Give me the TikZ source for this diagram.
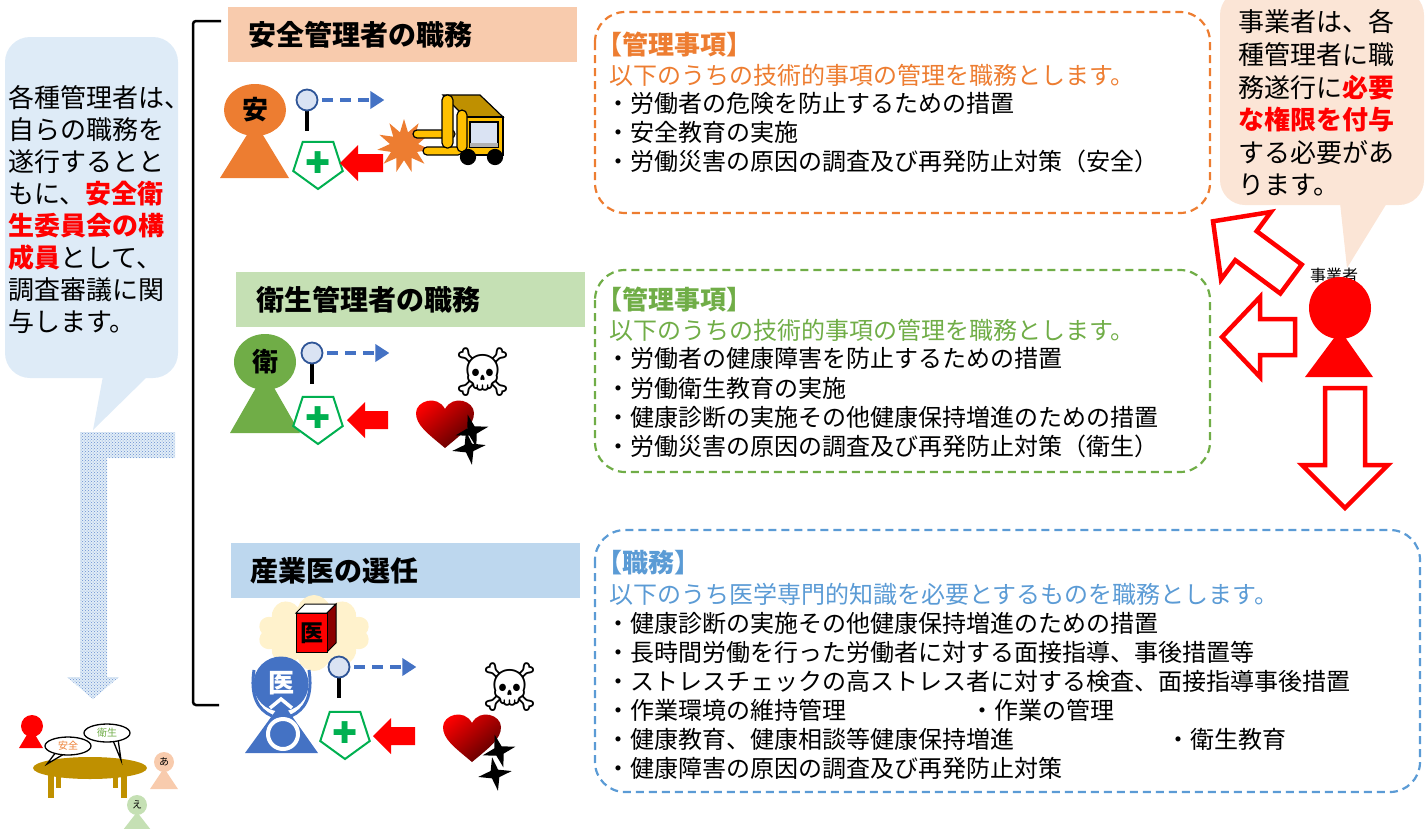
\documentclass[tikz,border=0pt]{standalone}
\usepackage{fontspec}
\setmainfont{Noto Sans CJK JP}
\newfontfamily\symfont{DejaVu Sans}
\newfontfamily\emojifont{Noto Emoji}
\usetikzlibrary{shapes.geometric,shapes.symbols,patterns,arrows.meta}

\definecolor{anzen}{HTML}{ED7D31}
\definecolor{anzenbg}{HTML}{F8CBAD}
\definecolor{eisei}{HTML}{70AD47}
\definecolor{eiseibg}{HTML}{C5E0B4}
\definecolor{isha}{HTML}{5B9BD5}
\definecolor{ishabg}{HTML}{BDD7EE}
\definecolor{figblue}{HTML}{4472C4}
\definecolor{noteL}{HTML}{DEEBF7}
\definecolor{noteR}{HTML}{FBE5D6}
\definecolor{crossgreen}{HTML}{00B050}
\definecolor{lift}{HTML}{FFC000}
\definecolor{liftdark}{HTML}{BF9000}
\definecolor{lensfill}{HTML}{DAE3F3}
\definecolor{lensedge}{HTML}{2F5597}
\definecolor{cloudbg}{HTML}{FFF2CC}

\begin{document}
\begin{tikzpicture}[
    x=1pt, y=-1pt,
    title/.style={anchor=north west, minimum width=349, minimum height=55, text width=309, inner xsep=20, align=left, font=\fontsize{28}{30}\selectfont\bfseries},
    item/.style={anchor=west, inner sep=0, font=\fontsize{24}{28}\selectfont},
    itemhead/.style={anchor=west, inner sep=0, font=\fontsize{26}{28}\selectfont\bfseries},
    memo/.style={anchor=west, inner sep=0, font=\fontsize{26}{32}\selectfont},
    duty/.style={dash pattern=on 8pt off 5pt, line width=2.2, rounded corners=30},
    badge/.style={inner sep=0, font=\fontsize{26}{26}\selectfont\bfseries},
    lens/.style={circle, draw=lensedge, fill=lensfill, line width=1.8, minimum size=21, inner sep=0},
    scan/.style={figblue, line width=4, dash pattern=on 11pt off 7pt, -{Triangle[length=14pt,width=17pt]}},
    guard/.style={regular polygon, regular polygon sides=5, shape border rotate=180, draw=crossgreen, line width=2, fill=white, minimum size=52, inner sep=0, text=crossgreen, font=\symfont\fontsize{30}{30}\selectfont},
    skull/.style={inner sep=0, font=\emojifont\fontsize{48}{48}\selectfont},
    crack/.style={star, star points=4, star point ratio=3.2, fill=black, minimum size=34, inner sep=0},
    hollow/.style={draw=red, line width=4.5, fill=white, line join=miter},
    pics/fat/.style args={#1/#2/#3/#4}{code={
        \path[pic actions] (0,-#1) -- (#2,-#1) -- (#2,-#3) -- (#2+#4,0) -- (#2,#3) -- (#2,#1) -- (0,#1) -- cycle;}},
    pics/heart/.style={code={
        \shade[top color=red, bottom color={rgb,255:red,90;green,0;blue,0}, shading angle=40]
          (0,25) .. controls (-18,10) and (-29,2) .. (-29,-10)
          .. controls (-29,-22) and (-8,-29) .. (0,-14)
          .. controls (8,-29) and (29,-22) .. (29,-10)
          .. controls (29,2) and (18,10) .. (0,25) -- cycle;}}
]
\useasboundingbox (0,0) rectangle (1426,828);

% Left note
\fill[noteL, rounded corners=25] (5,37) rectangle (178,378);
\fill[noteL] (103,376) -- (93,430) -- (148,376) -- cycle;
\foreach \i/\txt in {0/各種管理者は、, 1/自らの職務を, 2/遂行するとと,
    3/{もに、\textcolor{red}{\bfseries 安全衛}}, 4/{\textcolor{red}{\bfseries 生委員会の構}},
    5/{\textcolor{red}{\bfseries 成員}として、}, 6/調査審議に関, 7/与します。}
  \node[memo] (leftnote\i) at (8,98+32*\i) {\txt};

% Dotted arrow down to the committee
\path[preaction={fill=ishabg!45}, pattern=crosshatch dots, pattern color=figblue!80]
  (175,432) -- (80,432) -- (80,677) -- (67,677) -- (93,699) -- (119,677)
  -- (107,677) -- (107,458) -- (175,458) -- cycle;

% Bracket
\draw[line width=2.5, rounded corners=3] (221,21) -- (193,21) -- (193,705) -- (219,705);

% Section titles
\node[title, fill=anzenbg] (anzentitle) at (228,7) {安全管理者の職務};
\node[title, fill=eiseibg] (eiseititle) at (236,272) {衛生管理者の職務};
\node[title, fill=ishabg, text width=311, inner xsep=19] (ishatitle) at (231,543) {産業医の選任};

% Safety manager row
\fill[anzen] (220,178) -- (255,122) -- (289,178) -- cycle;
\node[ellipse, fill=anzen, minimum width=62, minimum height=52, badge] (anzenfig) at (255,110) {安};
\draw[line width=3.5] (307,108) -- (307,131);
\node[lens] (lens1) at (307,100) {};
\draw[scan] ([xshift=4]lens1.east) -- ++(62,0);
\node[guard] (guard1) at (318,163) {✚};
\pic[fill=red, rotate=180] at (383,163) {fat=9/25/18/18};
\node[star, star points=11, star point ratio=1.9, fill=anzen, minimum size=54, inner sep=0] (boom) at (404,146) {};
% forklift
\begin{scope}[draw=black, line width=1.2]
  \filldraw[fill=lift, rounded corners=4] (413,130) rectangle (455,138);
  \filldraw[fill=lift, rounded corners=4] (423,147) rectangle (462,155);
  \filldraw[fill=liftdark] (443,95) -- (480,95) -- (503,117) -- (465,117) -- cycle;
  \filldraw[fill=lift] (465,117) rectangle (503,155);
  \filldraw[fill=lensfill] (470,122) rectangle (498,147);
  \fill[gray!60] (470,143) rectangle (498,147);
  \filldraw[fill=lift, rounded corners=5] (442,95) rectangle (453,148);
  \filldraw[fill=lift, rounded corners=5] (457,110) rectangle (467,152);
  \filldraw[fill=black] (468,157) circle (7.5);
  \filldraw[fill=black] (495,157) circle (7.5);
\end{scope}

% Health manager row
\fill[eisei] (230,433) -- (265,372) -- (300,433) -- cycle;
\node[ellipse, fill=eisei, minimum width=62, minimum height=56, badge] (eiseifig) at (265,362) {衛};
\draw[line width=3.5] (312,361) -- (312,384);
\node[lens] (lens2) at (312,353) {};
\draw[scan] ([xshift=4]lens2.east) -- ++(62,0);
\node[guard] (guard2) at (318,418) {✚};
\pic[fill=red, rotate=180] at (388,420) {fat=9/23/18/18};
\node[skull] (skull2) at (483,372) {☠};
\pic at (445,423) {heart};
\node[crack, rotate=15] (crack2a) at (472,431) {};
\node[crack, rotate=10] (crack2b) at (469,448) {};

% Occupational physician row
\node[cloud, cloud puffs=10, aspect=1.4, fill=cloudbg, minimum width=112, minimum height=76] (idea) at (314,633) {};
\filldraw[fill=white, line width=1] (296,613) -- (305,604) -- (336,604) -- (327,613) -- cycle;
\filldraw[fill=red!55!black, line width=1] (327,613) -- (336,604) -- (336,643) -- (327,652) -- cycle;
\node[draw, line width=1, fill=red, minimum width=31, minimum height=39, anchor=north west, inner sep=0, font=\fontsize{23}{23}\selectfont\bfseries] (book) at (296,613) {医};
\fill[figblue] (245,753) -- (282,702) -- (318,753) -- cycle;
\draw[white, line width=4] (283,734) circle (15);
\draw[figblue, line width=3] (254,670) .. controls (250,696) and (258,710) .. (272,716);
\draw[figblue, line width=3] (309,670) .. controls (313,696) and (305,710) .. (291,716);
\node[circle, fill=figblue, minimum size=55, badge, text=white] (ishafig) at (281,684) {\raisebox{4pt}{医}};
\draw[white, line width=3.5] (270,708) -- (281,699) -- (292,708);
\draw[line width=3.5] (339,675) -- (339,698);
\node[lens] (lens3) at (339,667) {};
\draw[scan] ([xshift=4]lens3.east) -- ++(62,0);
\node[guard] (guard3) at (345,733) {✚};
\pic[fill=red, rotate=180] at (415,736) {fat=9/24/18/18};
\node[skull] (skull3) at (510,687) {☠};
\pic at (472,737) {heart};
\node[crack, rotate=15] (crack3a) at (499,751) {};
\node[crack, rotate=10] (crack3b) at (495,774) {};

% Committee table
\fill[red] (19,748) -- (31,728) -- (43,748) -- cycle;
\node[circle, fill=red, minimum size=22, inner sep=0] (chair) at (32,726) {};
\fill[liftdark] (48,770) rectangle (54,798);
\fill[liftdark] (56,770) rectangle (61,788);
\fill[liftdark] (113,770) rectangle (118,788);
\fill[liftdark] (121,770) rectangle (127,798);
\fill[liftdark] (90,768) ellipse [x radius=57, y radius=11];
\filldraw[fill=white, line width=1.3] (56,752) -- (47,764) -- (64,754);
\node[ellipse, draw, line width=1.3, fill=white, minimum width=46, minimum height=18, inner sep=0, text=anzen, font=\fontsize{10}{10}\selectfont] (saysafe) at (68,746) {安全};
\filldraw[fill=white, line width=1.3] (112,738) -- (121,760) -- (118,739);
\node[ellipse, draw, line width=1.3, fill=white, minimum width=46, minimum height=18, inner sep=0, text=eisei, font=\fontsize{10}{10}\selectfont] (sayhealth) at (107,733) {衛生};
\fill[anzenbg] (150,789) -- (164,768) -- (178,789) -- cycle;
\node[circle, fill=anzenbg, minimum size=20, inner sep=0, font=\fontsize{10}{10}\selectfont] (member1) at (164,762) {あ};
\fill[eiseibg] (123,830) -- (137,812) -- (151,830) -- cycle;
\node[circle, fill=eiseibg, minimum size=20, inner sep=0, font=\fontsize{10}{10}\selectfont] (member2) at (137,805) {え};

% Duty boxes
\draw[duty, anzen] (595,12) rectangle (1210,213);
\node[itemhead, anzen] (anzenkey) at (596,45) {【管理事項】};
\node[item, anzen] (anzenlead) at (609,75) {以下のうちの技術的事項の管理を職務とします。};
\foreach \y/\txt in {103/労働者の危険を防止するための措置, 132/安全教育の実施,
    161/労働災害の原因の調査及び再発防止対策（安全）}
  \node[item] (anzen\y) at (606,\y) {・\txt};

\draw[duty, eisei] (595,270) rectangle (1210,472);
\node[itemhead, eisei] (eiseikey) at (596,300) {【管理事項】};
\node[item, eisei] (eiseilead) at (609,330) {以下のうちの技術的事項の管理を職務とします。};
\foreach \y/\txt in {358/労働者の健康障害を防止するための措置, 388/労働衛生教育の実施,
    417/健康診断の実施その他健康保持増進のための措置,
    446/労働災害の原因の調査及び再発防止対策（衛生）}
  \node[item] (eisei\y) at (606,\y) {・\txt};

\draw[duty, isha] (595,530) rectangle (1420,792);
\node[itemhead, isha] (ishakey) at (596,563) {【職務】};
\node[item, isha] (ishalead) at (609,594) {以下のうち医学専門的知識を必要とするものを職務とします。};
\foreach \y/\txt in {623/健康診断の実施その他健康保持増進のための措置,
    652/長時間労働を行った労働者に対する面接指導、事後措置等,
    681/ストレスチェックの高ストレス者に対する検査、面接指導事後措置,
    710/作業環境の維持管理, 739/健康教育、健康相談等健康保持増進,
    768/健康障害の原因の調査及び再発防止対策}
  \node[item] (isha\y) at (606,\y) {・\txt};
\node[item] (isha710b) at (970,710) {・作業の管理};
\node[item] (isha739b) at (1166,739) {・衛生教育};

% Employer
\fill[noteR, rounded corners=25] (1220,-10) rectangle (1424,205);
\fill[noteR] (1340,203) -- (1347,268) -- (1387,203) -- cycle;
\foreach \i/\txt in {0/事業者は、各, 1/種管理者に職, 2/{務遂行に\textcolor{red}{\bfseries 必要}},
    3/{\textcolor{red}{\bfseries な権限を付与}}, 4/する必要があ, 5/ります。}
  \node[memo] (rightnote\i) at (1238,22+32.6*\i) {\txt};
\node[font=\fontsize{16}{16}\selectfont, inner sep=0] (bosslabel) at (1334,275) {事業者};
\fill[red] (1305,377) -- (1340,330) -- (1373,377) -- cycle;
\node[circle, fill=red, minimum size=62, inner sep=0] (boss) at (1340,308) {};
\pic[hollow, rotate=143.5] at (1291,279) {fat=18/56/42/41};
\pic[hollow, rotate=180] at (1295,337) {fat=18/35/40/38};
\pic[hollow, rotate=-90] at (1345,388) {fat=20/77/43/43};

\end{tikzpicture}
\end{document}
